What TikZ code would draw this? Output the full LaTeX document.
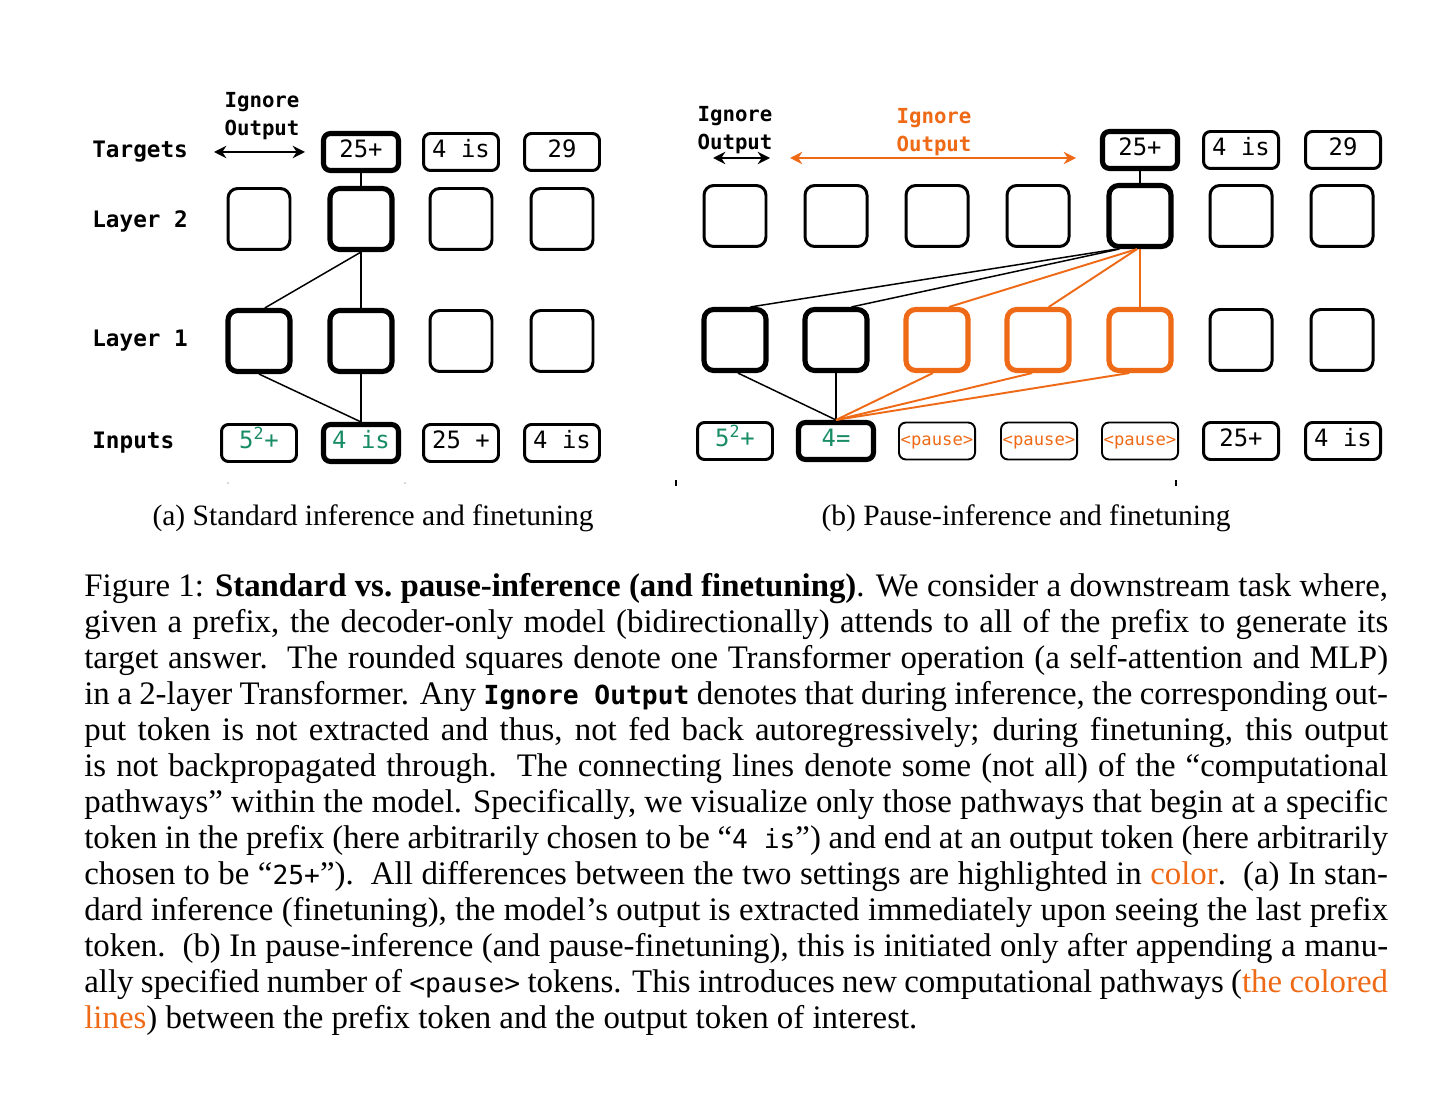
\documentclass[tikz,border=0pt]{standalone}
\usepackage{fontspec}
\setmainfont{Liberation Serif}
\setmonofont[Scale=0.8]{DejaVu Sans Mono}
\newfontfamily\diagfont{DejaVu Sans Mono}
\usepackage{xcolor}
\usepackage{tikz}
\usetikzlibrary{arrows.meta, positioning}
\definecolor{pauseorange}{RGB}{238,106,22}
\definecolor{prefixgreen}{RGB}{24,140,100}
\definecolor{tickgray}{RGB}{90,90,90}
\newcommand{\rowfont}{\diagfont\fontsize{12.9pt}{15pt}\selectfont\bfseries}
\newcommand{\tokfont}{\diagfont\fontsize{13.6pt}{15pt}\selectfont}
\newcommand{\pausefont}{\diagfont\fontsize{9.8pt}{12pt}\selectfont}
\newcommand{\ignfont}{\diagfont\fontsize{11.8pt}{15.9pt}\selectfont\bfseries}
\newcommand{\capfont}{\fontsize{18.7pt}{20.5pt}\selectfont}
\newcommand{\subcapfont}{\fontsize{16.8pt}{18.5pt}\selectfont}
\tikzset{
  cell/.style={rectangle, draw=black, minimum width=1.24cm, minimum height=1.22cm,
    rounded corners=5.5pt, line width=1.7pt},
  boldcell/.style={cell, line width=2.9pt},
  pausecell/.style={cell, draw=pauseorange, line width=2.9pt},
  tok/.style={rectangle, draw=black, minimum width=1.5cm, minimum height=0.74cm,
    rounded corners=4pt, line width=1.7pt, font=\tokfont,
    text height=0.72em, text depth=0.1em},
  boldtok/.style={tok, line width=2.9pt},
  pausetok/.style={tok, line width=1.1pt, text=pauseorange, font=\pausefont,
    inner sep=1pt, text height=0.75em, text depth=0.2em},
  rowlabel/.style={anchor=west, font=\rowfont, inner sep=0pt},
  ignorelabel/.style={align=center, font=\ignfont, inner sep=0pt},
  ignorearrow/.style={{Stealth[length=7pt,width=7pt]}-{Stealth[length=7pt,width=7pt]}, line width=1.1pt},
  pathline/.style={line width=0.85pt, color=black},
  orangeline/.style={line width=1.1pt, color=pauseorange},
  subcap/.style={font=\subcapfont, inner sep=0pt}
}

\begin{document}
\begin{tikzpicture}[x=0.02cm, y=-0.02cm]
  \useasboundingbox (0,0) rectangle (1456,1094);

  % ---------- (a) Standard inference ----------
  % Row labels
  \node[rowlabel] (tgtA) at (92,152) {Targets};
  \node[rowlabel] (lay2A) at (92,221) {Layer 2};
  \node[rowlabel] (lay1A) at (92,341) {Layer 1};
  \node[rowlabel] (inpA) at (92,443) {Inputs};

  % Ignore output
  \node[ignorelabel] (ignA) at (262,116) {Ignore\\Output};
  \coordinate (ignAl) at (214,152);
  \coordinate (ignAr) at (305,152);

  % Targets
  \node[boldtok] (ta1) at (361,152) {25+};
  \node[tok] (ta2) at (461,152) {4 is};
  \node[tok] (ta3) at (562,152) {29};

  % Layer 2
  \node[cell] (a21) at (259,219) {};
  \node[boldcell] (a22) at (361,219) {};
  \node[cell] (a23) at (461,219) {};
  \node[cell] (a24) at (562,219) {};

  % Layer 1
  \node[boldcell] (a11) at (259,341) {};
  \node[boldcell] (a12) at (361,341) {};
  \node[cell] (a13) at (461,341) {};
  \node[cell] (a14) at (562,341) {};

  % Inputs
  \node[tok, text=prefixgreen] (ia1) at (259,443) {5\textsuperscript{2}+};
  \node[boldtok, text=prefixgreen] (ia2) at (361,443) {4 is};
  \node[tok] (ia3) at (461,443) {25 +};
  \node[tok] (ia4) at (562,443) {4 is};

  % Connections
  \draw[ignorearrow] (ignAl) -- (ignAr);
  \draw[pathline] (ta1) -- (a22);
  \draw[pathline] (a22.south) -- (a11.80);
  \draw[pathline] (a22) -- (a12);
  \draw[pathline] (a11.south) -- (ia2.north);
  \draw[pathline] (a12) -- (ia2);

  % ---------- (b) Pause inference ----------
  % Ignore outputs
  \node[ignorelabel] (ignB) at (735,130) {Ignore\\Output};
  \coordinate (ignBl) at (713,158);
  \coordinate (ignBr) at (770,158);
  \node[ignorelabel, text=pauseorange] (ignC) at (934,132) {Ignore\\Output};
  \coordinate (ignCl) at (790,158);
  \coordinate (ignCr) at (1076,158);

  % Targets
  \node[boldtok] (tb1) at (1140,150) {25+};
  \node[tok] (tb2) at (1241,150) {4 is};
  \node[tok] (tb3) at (1343,150) {29};

  % Layer 2
  \node[cell] (b21) at (735,216) {};
  \node[cell] (b22) at (836,216) {};
  \node[cell] (b23) at (937,216) {};
  \node[cell] (b24) at (1038,216) {};
  \node[boldcell] (b25) at (1140,216) {};
  \node[cell] (b26) at (1241,216) {};
  \node[cell] (b27) at (1342,216) {};

  % Layer 1
  \node[boldcell] (b11) at (735,340) {};
  \node[boldcell] (b12) at (836,340) {};
  \node[pausecell] (b13) at (937,340) {};
  \node[pausecell] (b14) at (1038,340) {};
  \node[pausecell] (b15) at (1140,340) {};
  \node[cell] (b16) at (1241,340) {};
  \node[cell] (b17) at (1342,340) {};

  % Inputs
  \node[tok, text=prefixgreen] (ib1) at (735,441) {5\textsuperscript{2}+};
  \node[boldtok, text=prefixgreen] (ib2) at (836,441) {4=};
  \node[pausetok] (ib3) at (937,441) {<pause>};
  \node[pausetok] (ib4) at (1039,441) {<pause>};
  \node[pausetok] (ib5) at (1140,441) {<pause>};
  \node[tok] (ib6) at (1241,441) {25+};
  \node[tok] (ib7) at (1343,441) {4 is};

  % Connections
  \draw[ignorearrow] (ignBl) -- (ignBr);
  \draw[ignorearrow, color=pauseorange] (ignCl) -- (ignCr);
  \draw[pathline] (tb1) -- (b25);
  \draw[pathline] (b25.-125) -- (b11.65);
  \draw[pathline] (b25.-122) -- (b12.65);
  \draw[orangeline] (b25.-95) -- (b13.70);
  \draw[orangeline] (b25.-95) -- (b14.72);
  \draw[orangeline] (b25) -- (b15);
  \draw[pathline] (b11.-85) -- (ib2.north);
  \draw[pathline] (b12) -- (ib2);
  \draw[orangeline] (b13.-97) -- (ib2.north);
  \draw[orangeline] (b14.-100) -- (ib2.north);
  \draw[orangeline] (b15.-108) -- (ib2.north);

  % stray marks under the panels
  \fill[tickgray] (228,483) circle (0.6);
  \fill[tickgray] (405,483) circle (0.6);
  \draw[line width=0.8pt] (676,480) -- (676,486);
  \draw[line width=0.8pt] (1176,480) -- (1176,486);

  % Sub-captions
  \node[subcap] (capA) at (373,518) {(a) Standard inference and finetuning};
  \node[subcap] (capB) at (1026,518) {(b) Pause-inference and finetuning};

  % Caption
  \node[anchor=north west, inner sep=0pt, text width=26.08cm, align=justify, font=\capfont] (figcap) at (84,573) {%
    Figure 1: \textbf{Standard vs.\ pause-inference (and finetuning)}. We consider a downstream task where,\linebreak
    given a prefix, the decoder-only model (bidirectionally) attends to all of the prefix to generate its\linebreak
    target answer.\ \ The rounded squares denote one Transformer operation (a self-attention and MLP)\linebreak
    in a 2-layer Transformer. Any \texttt{\textbf{Ignore Output}} denotes that during inference, the corresponding out-\linebreak
    put token is not extracted and thus, not fed back autoregressively; during finetuning, this output\linebreak
    is not backpropagated through.\ \ The connecting lines denote some (not all) of the ``computational\linebreak
    pathways'' within the model. Specifically, we visualize only those pathways that begin at a specific\linebreak
    token in the prefix (here arbitrarily chosen to be ``\texttt{4 is}'') and end at an output token (here arbitrarily\linebreak
    chosen to be ``\texttt{25+}'').\ \ All differences between the two settings are highlighted in \textcolor{pauseorange}{color}.\ \ (a) In stan-\linebreak
    dard inference (finetuning), the model's output is extracted immediately upon seeing the last prefix\linebreak
    token.\ \ (b) In pause-inference (and pause-finetuning), this is initiated only after appending a manu-\linebreak
    ally specified number of \texttt{<pause>} tokens. This introduces new computational pathways (\textcolor{pauseorange}{the colored\linebreak
    lines}) between the prefix token and the output token of interest.};
\end{tikzpicture}
\end{document}
